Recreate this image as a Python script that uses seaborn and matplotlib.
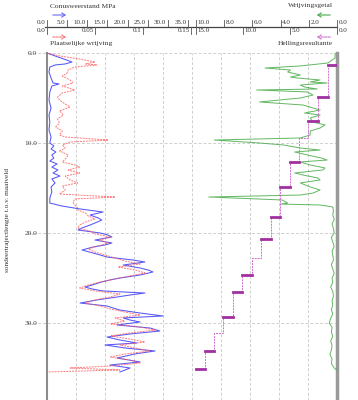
import matplotlib
matplotlib.use("Agg")
import matplotlib.pyplot as plt
import matplotlib.transforms as mtransforms
import seaborn as sns
import numpy as np

# ---------------- data ----------------
# Conusweerstand (MPa) vs depth (m)
cone_depth = [0.0, 0.33, 0.67, 1.0, 1.22, 1.33, 1.56, 2.11, 2.78, 3.33, 3.44, 3.67, 4.33, 5.22, 6.11, 6.89,
              7.67, 8.56, 9.33, 10.0, 10.33, 10.67, 11.0, 11.33, 11.67, 12.0, 12.33, 12.67, 13.0, 13.33, 13.67,
              14.0, 14.44, 14.89, 15.44, 16.11, 16.67, 17.0, 17.33, 17.67, 18.0, 18.33, 18.56, 18.89, 19.11,
              19.44, 19.67, 20.0, 20.22, 20.44, 20.78, 21.11, 21.33, 21.56, 21.89, 22.22, 22.44, 22.67, 23.0,
              23.22, 23.56, 23.89, 24.11, 24.33, 24.67, 25.0, 25.22, 25.44, 25.78, 26.0, 26.22, 26.44, 26.67,
              26.89, 27.11, 27.44, 27.78, 28.11, 28.33, 28.56, 28.89, 29.22, 29.44, 29.67, 29.89, 30.22, 30.56,
              30.89, 31.22, 31.56, 31.89, 32.22, 32.44, 32.78, 33.11, 33.44, 33.89, 34.33, 34.67, 35.0, 35.22,
              35.44]
cone_qc = [0.0, 2.0, 4.2, 6.2, 4.5, 2.0, 0.7, 0.5, 1.0, 1.5, 3.0, 1.2, 0.7, 0.5, 1.0, 0.5,
           0.7, 0.5, 1.0, 0.7, 1.7, 1.0, 2.2, 1.2, 1.7, 0.7, 2.5, 1.2, 2.7, 1.5, 3.2,
           1.2, 2.0, 1.0, 1.2, 0.7, 0.7, 3.7, 8.2, 13.9, 10.7, 12.7, 13.6, 11.9, 10.7,
           8.7, 7.7, 13.2, 15.1, 16.1, 11.9, 16.1, 14.4, 11.4, 8.7, 11.4, 13.2, 14.9, 21.3,
           24.3, 18.9, 23.1, 25.1, 26.3, 23.1, 18.1, 15.6, 13.6, 11.2, 9.4, 11.2, 13.9, 24.3,
           20.6, 17.4, 12.4, 8.2, 14.9, 16.4, 18.1, 23.1, 28.8, 18.9, 20.6, 23.1, 17.4, 25.6,
           28.0, 20.6, 14.9, 18.1, 22.3, 14.4, 19.4, 26.8, 21.8, 17.4, 23.1, 15.6, 20.6, 19.4,
           18.1]

# Plaatselijke wrijving (MPa) vs depth (m)
fric_depth = [0.0, 0.33, 0.67, 1.0, 1.22, 1.33, 1.56, 1.89, 2.22, 2.56, 3.0, 3.33, 3.67, 4.11, 4.44, 4.89,
              5.22, 5.67, 6.0, 6.44, 6.89, 7.33, 7.78, 8.22, 8.67, 9.11, 9.33, 9.67, 9.89, 10.22, 10.56,
              10.89, 11.33, 11.67, 12.11, 12.44, 12.67, 13.0, 13.33, 13.67, 14.11, 14.44, 14.78, 15.22,
              15.67, 16.0, 16.22, 16.56, 16.89, 17.22, 17.44, 17.78, 18.11, 18.44, 18.78, 19.11, 19.44,
              19.78, 20.11, 20.44, 20.78, 21.11, 21.44, 21.78, 22.11, 22.44, 22.78, 23.11, 23.44, 23.78,
              24.11, 24.44, 24.78, 25.11, 25.44, 25.78, 26.11, 26.44, 26.78, 27.11, 27.44, 27.78, 28.11,
              28.44, 28.78, 29.11, 29.44, 29.78, 30.11, 30.44, 30.78, 31.11, 31.44, 31.78, 32.11, 32.44,
              32.78, 33.11, 33.44, 33.78, 34.11, 34.44, 34.78, 35.0, 35.22, 35.44]
fric_fs = [0.0, 0.0135, 0.034, 0.050, 0.040, 0.052, 0.029, 0.022, 0.021, 0.016, 0.024, 0.027, 0.016, 0.029,
           0.016, 0.011, 0.013, 0.019, 0.024, 0.013, 0.017, 0.011, 0.013, 0.009, 0.016, 0.013, 0.019, 0.064,
           0.024, 0.016, 0.019, 0.013, 0.022, 0.020, 0.016, 0.029, 0.034, 0.022, 0.034, 0.019, 0.024, 0.032,
           0.016, 0.019, 0.013, 0.071, 0.029, 0.027, 0.029, 0.032, 0.032, 0.040, 0.043, 0.050, 0.040, 0.034,
           0.032, 0.045, 0.050, 0.066, 0.055, 0.064, 0.053, 0.043, 0.050, 0.060, 0.071, 0.081, 0.097, 0.074,
           0.092, 0.102, 0.086, 0.071, 0.055, 0.043, 0.034, 0.050, 0.076, 0.066, 0.050, 0.040, 0.055, 0.066,
           0.081, 0.097, 0.071, 0.081, 0.066, 0.097, 0.1125, 0.086, 0.066, 0.086, 0.102, 0.076, 0.092, 0.107,
           0.081, 0.066, 0.086, 0.097, 0.066, 0.024, 0.076, 0.0]

# Wrijvingsgetal (%) vs depth (m)
rf_depth = [0.0, 0.56, 1.11, 1.44, 1.67, 1.89, 2.11, 2.44, 2.67, 2.78, 3.0, 3.22, 3.33, 3.56, 3.78, 4.0,
            4.11, 4.33, 4.67, 5.0, 5.44, 5.78, 6.11, 6.33, 6.67, 6.89, 7.22, 7.67, 8.0, 8.33, 8.67, 9.11,
            9.44, 9.67, 10.0, 10.22, 10.56, 10.78, 11.0, 11.33, 11.67, 11.89, 12.11, 12.44, 12.78, 13.0,
            13.33, 13.56, 13.89, 14.11, 14.44, 14.89, 15.22, 15.56, 15.78, 16.0, 16.33, 16.67, 16.78,
            16.89, 17.11, 17.5, 18.0, 18.5, 19.0, 19.5, 20.0, 20.5, 21.0, 21.5, 22.0, 22.5, 23.0, 23.5,
            24.0, 24.5, 25.0, 25.5, 26.0, 26.5, 27.0, 27.5, 28.0, 28.5, 29.0, 29.5, 30.0, 30.5, 31.0,
            31.5, 32.0, 32.5, 33.0, 33.5, 34.0, 34.5, 35.0, 35.2]
rf_val = [0.14, 0.14, 0.64, 2.6, 5.1, 3.3, 3.5, 2.6, 3.3, 2.8, 1.2, 1.9, 0.7, 2.6, 2.3, 1.4,
          5.7, 2.1, 1.7, 2.6, 5.5, 2.4, 1.7, 1.2, 2.3, 1.2, 1.9, 1.7, 0.85, 1.2, 1.9, 1.9,
          2.6, 8.7, 5.5, 3.8, 2.6, 1.2, 3.0, 2.1, 1.1, 0.7, 2.6, 1.9, 0.85, 1.0,
          3.0, 2.4, 1.35, 1.2, 2.6, 1.9, 1.2, 1.7, 2.6, 9.1, 3.9, 3.5, 4.0,
          1.2, 0.3, 0.25, 0.3, 0.2, 0.35, 0.25, 0.2, 0.4, 0.3, 0.2, 0.35, 0.3, 0.25, 0.4,
          0.3, 0.2, 0.35, 0.3, 0.45, 0.3, 0.25, 0.35, 0.3, 0.4, 0.3, 0.45, 0.55, 0.35, 0.4,
          0.3, 0.45, 0.35, 0.4, 0.5, 0.35, 0.4, 0.2, 0.05]

# Hellingsresultante (degrees) steps vs depth (m)
incl_depth = [0.0, 1.3, 4.9, 7.6, 9.4, 12.1, 14.9, 18.2, 20.7, 22.8, 24.7, 26.5, 29.3, 31.1, 33.1, 35.1]
incl_val = [0.0, 0.96, 2.0, 3.1, 4.0, 5.0, 6.1, 7.0, 8.1, 9.0, 10.1, 11.1, 12.1, 13.1, 14.0, 15.0]
incl_mark = [False, True, True, True, False, True, True, True, True, False, True, True, True, False, True, True]

# axis tick labels
cone_ticks = [0, 5, 10, 15, 20, 25, 30, 35]
fric_ticks = [0.0, 0.05, 0.1, 0.15]
rf_ticks = [10, 8, 6, 4, 2, 0]
incl_ticks = [15, 10, 5, 0]
depth_ticks = [0, 10, 20, 30]

# ---------------- figure ----------------
W, H = 358, 400
fig = plt.figure(figsize=(W / 100, H / 100), dpi=100)
serif = ["Liberation Serif", "DejaVu Serif"]
plt.rcParams["font.family"] = serif

L, R, T, B = 47, 337, 53, 400
ax = fig.add_axes([L / W, 1 - B / H, (R - L) / W, (B - T) / H])
YMAX = (B - T) / 9.0
ax.set_ylim(YMAX, 0)
ax.set_xlim(0, 10)
ax.set_xticks(range(11))
ax.set_xticklabels([])
ax.tick_params(axis="x", length=0)
ax.grid(axis="x", color="#cfcfcf", linestyle=(0, (3, 2)), linewidth=0.7)
ax.set_yticks(depth_ticks)
ax.set_yticklabels([f"{v:.1f}" for v in depth_ticks], fontsize=5.3, color="#444444")
ax.tick_params(axis="y", length=0, pad=7)
for d in depth_ticks:
    ax.axhline(d, xmin=-0.066, xmax=1, color="#cfcfcf", linestyle=(0, (3, 2)), linewidth=0.7,
               clip_on=False, zorder=0)
for s in ["top", "bottom"]:
    ax.spines[s].set_visible(False)
ax.spines["left"].set_color("#8c8c8c")
ax.spines["left"].set_linewidth(1.5)
ax.spines["right"].set_color("#9a9a9a")
ax.spines["right"].set_linewidth(2.5)

PXW = R - L
ax_c = ax.twiny()
ax_f = ax.twiny()
ax_r = ax.twiny()
ax_h = ax.twiny()

# data
sns.lineplot(x=cone_qc, y=cone_depth, sort=False, estimator=None, ax=ax_c, color="#3a3af5",
             linewidth=0.75, alpha=0.85)
sns.lineplot(x=fric_fs, y=fric_depth, sort=False, estimator=None, ax=ax_f, color="#ff5a5a",
             linewidth=0.7, linestyle=(0, (2, 1)), alpha=0.8)
sns.lineplot(x=rf_val, y=rf_depth, sort=False, estimator=None, ax=ax_r, color="#3aa63a",
             linewidth=0.7, alpha=0.8)

sx, sy = [incl_val[0]], [incl_depth[0]]
for i in range(1, len(incl_val)):
    sx += [incl_val[i - 1], incl_val[i]]
    sy += [incl_depth[i], incl_depth[i]]
sns.lineplot(x=sx, y=sy, sort=False, estimator=None, ax=ax_h, color="#d070d0",
             linewidth=0.7, linestyle=(0, (2, 1)))
for i in range(1, len(incl_val)):
    if incl_mark[i]:
        sns.lineplot(x=[incl_val[i - 1], incl_val[i]], y=[incl_depth[i], incl_depth[i]], sort=False,
                     estimator=None, ax=ax_h, color="#a030a0", linewidth=2.0)

ax_c.set_xlim(0, PXW / 4.03)
ax_f.set_xlim(0, PXW / 960.0)
ax_r.set_xlim(PXW / 14.1, 0)
ax_h.set_xlim(PXW / 9.4, 0)
for a in (ax_c, ax_f, ax_r, ax_h):
    a.set_ylim(YMAX, 0)
    a.set_xticks([])
    a.set_xlabel("")
    a.set_ylabel("")
    for s in a.spines.values():
        s.set_visible(False)
ax.set_ylabel("")

# ---------------- top scale ----------------
def fy(py):
    return 1 - py / H

AXY = 27
fig.add_artist(plt.Line2D([45 / W, R / W], [fy(AXY), fy(AXY)], color="#444444", linewidth=0.9,
                          transform=fig.transFigure))
fs_ = 5.0
tc = "#333333"

def tick_labels(axis, values, fmt, upper, left_side):
    tr = mtransforms.blended_transform_factory(axis.transData, fig.transFigure)
    for v in values:
        y0, y1 = (AXY - 7, AXY) if upper else (AXY, AXY + 7)
        fig.add_artist(plt.Line2D([v, v], [fy(y0), fy(y1)], color="#555555", linewidth=0.6,
                                  transform=tr))
        ty = fy(AXY - 1.5) if upper else fy(AXY + 1.5)
        va = "bottom" if upper else "top"
        off = mtransforms.ScaledTranslation((-1.5 if left_side else 1.5) / 100, 0, fig.dpi_scale_trans)
        fig.text(v, ty, fmt(v), transform=tr + off, ha="right" if left_side else "left", va=va,
                 fontsize=fs_, color=tc)

tick_labels(ax_c, cone_ticks, lambda v: f"{v:.1f}", True, True)
tick_labels(ax_f, fric_ticks, lambda v: f"{v:g}" if v else "0.0", False, True)
tick_labels(ax_r, rf_ticks, lambda v: f"{v:.1f}", True, False)
tick_labels(ax_h, incl_ticks, lambda v: f"{v:.1f}", False, False)

fig.text(50 / W, fy(6), "Conusweerstand MPa", ha="left", va="center", fontsize=5.4, color=tc)
fig.text(50 / W, fy(43), "Plaatselijke wrijving", ha="left", va="center", fontsize=5.4, color=tc)
fig.text(333 / W, fy(6), "Wrijvingsgetal", ha="right", va="center", fontsize=5.4, color=tc)
fig.text(333 / W, fy(43), "Hellingsresultante", ha="right", va="center", fontsize=5.4, color=tc)

def arrow(x0, x1, py, color, ls):
    fig.add_artist(matplotlib.patches.FancyArrowPatch((x0 / W, fy(py)), (x1 / W, fy(py)),
                   transform=fig.transFigure, arrowstyle="->,head_length=2.5,head_width=1.5",
                   color=color, linewidth=0.8, linestyle=ls, mutation_scale=1))

arrow(50, 69, 15, "#6a6aff", "-")
arrow(50, 69, 37, "#ff7a7a", (0, (2, 1)))
arrow(333, 314, 15, "#4aaa4a", "-")
arrow(333, 314, 37, "#d070d0", (0, (2, 1)))

fig.text(8 / W, fy(220), "sondeertrajectlengte t.o.v. maaiveld", rotation=90, ha="center",
         va="center", fontsize=5.2, color=tc)

fig.savefig("out.png", dpi=100)
